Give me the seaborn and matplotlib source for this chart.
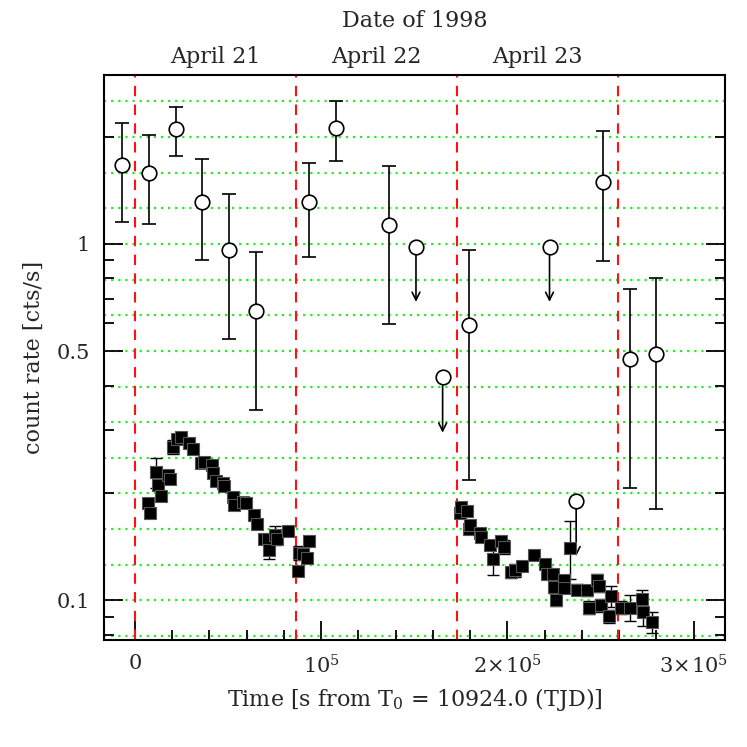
import numpy as np
import pandas as pd
import matplotlib
matplotlib.use('Agg')
import matplotlib.pyplot as plt
import matplotlib.ticker as mticker
import seaborn as sns

# --- data (time in s from T0, rate in cts/s) ---
# WFC-like detections (open circles)
det_t = [-7000, 7500, 21900, 36000, 50500, 64900, 93500, 107900, 136600,
         179600, 251300, 265600, 279900]
det_rate = [1.67, 1.58, 2.10, 1.31, 0.96, 0.648, 1.31, 2.11, 1.13,
            0.591, 1.49, 0.476, 0.491]
det_hi = [2.18, 2.02, 2.43, 1.73, 1.38, 0.95, 1.69, 2.52, 1.66,
          0.962, 2.08, 0.746, 0.80]
det_lo = [1.15, 1.14, 1.77, 0.90, 0.54, 0.343, 0.92, 1.71, 0.596,
          0.218, 0.896, 0.207, 0.18]

# upper limits (open circles with arrows)
ul_t = [150900, 165200, 222600, 236900]
ul_rate = [0.983, 0.422, 0.983, 0.190]

# narrow-field light curve (filled squares)
nfi_t = [7150, 8060, 11290, 12200, 13820, 17900, 18660, 20270, 22740, 24570,
         29190, 31020, 35320, 37100, 41240, 42100, 43550, 47150, 47850, 52530,
         53230, 57900, 59680, 63980, 65750, 69350, 71670, 72200, 75270, 76180,
         82420, 87800, 88330, 90480, 92630, 93710,
         174350, 175100, 178330, 179190, 180110, 185480, 185860, 190860, 192310,
         196610, 198010, 201990, 204300, 207900, 214140, 220430, 221340, 224570,
         224890, 226340, 230270, 230640, 233490, 237470, 242470, 243710, 248230,
         249090, 250380, 254460, 255750, 261130, 265750, 272040, 272960, 277420]
nfi_rate = [0.1877, 0.176, 0.2285, 0.2104, 0.196, 0.2244, 0.2197, 0.2697, 0.2827, 0.2876,
            0.2756, 0.265, 0.243, 0.2445, 0.2393, 0.228, 0.216, 0.2137, 0.209, 0.1944,
            0.185, 0.1888, 0.1877, 0.1733, 0.164, 0.149, 0.149, 0.1387, 0.1523, 0.149,
            0.1566, 0.1208, 0.1358, 0.1346, 0.1318, 0.1465,
            0.1753, 0.1828, 0.1778, 0.159, 0.163, 0.155, 0.1506, 0.1427, 0.131,
            0.1465, 0.1412, 0.1197, 0.1214, 0.1248, 0.1337, 0.1268, 0.1189, 0.1183,
            0.1089, 0.1004, 0.1138, 0.1086, 0.1406, 0.1072, 0.1067, 0.0953, 0.1143,
            0.1094, 0.0968, 0.0902, 0.1026, 0.0953, 0.0953, 0.1009, 0.0927, 0.0869]
nfi_err = [0.004, 0.004, 0.022, 0.006, 0.005, 0.005, 0.005, 0.012, 0.005, 0.005,
           0.005, 0.005, 0.005, 0.005, 0.005, 0.005, 0.005, 0.005, 0.005, 0.005,
           0.005, 0.004, 0.004, 0.004, 0.004, 0.005, 0.004, 0.008, 0.009, 0.004,
           0.004, 0.004, 0.006, 0.004, 0.004, 0.004,
           0.004, 0.004, 0.004, 0.004, 0.005, 0.004, 0.004, 0.004, 0.013,
           0.004, 0.006, 0.004, 0.005, 0.004, 0.004, 0.004, 0.004, 0.004,
           0.004, 0.004, 0.004, 0.004, 0.026, 0.004, 0.004, 0.004, 0.004,
           0.004, 0.004, 0.004, 0.007, 0.004, 0.008, 0.006, 0.008, 0.006]

day_bounds = [0, 86400, 172800, 259200]
day_labels = ['April 21', 'April 22', 'April 23']

df_det = pd.DataFrame({'t': det_t, 'rate': det_rate})
df_ul = pd.DataFrame({'t': ul_t, 'rate': ul_rate})
df_nfi = pd.DataFrame({'t': nfi_t, 'rate': nfi_rate})

# --- PLOT ---
sns.set_style('ticks')
plt.rcParams['font.family'] = ['DejaVu Serif']
plt.rcParams['mathtext.fontset'] = 'dejavuserif'

fig = plt.figure(figsize=(7.47, 7.47), dpi=100)
ax = fig.add_axes([0.139, 0.143, 0.832, 0.757])
ax.set_yscale('log')
ax.set_xlim(-16700, 317000)
ax.set_ylim(0.0773, 2.985)

# green dotted grid every 0.1 dex
for k in range(-11, 5):
    ax.axhline(10 ** (k / 10), color='#22ee22', ls=(0, (1, 2.2)), lw=1.6, zorder=0)
# red day boundaries
for b in day_bounds:
    ax.axvline(b, color='#ff1111', ls=(0, (5, 4)), lw=1.5, zorder=1)

# error bars
det_rate_a = np.array(det_rate)
yerr = [det_rate_a - np.array(det_lo), np.array(det_hi) - det_rate_a]
ax.errorbar(det_t, det_rate, yerr=yerr, fmt='none', ecolor='black',
            elinewidth=1.2, capsize=5, capthick=1.2, zorder=2)
ax.errorbar(nfi_t, nfi_rate, yerr=nfi_err, fmt='none', ecolor='black',
            elinewidth=1.0, capsize=4, capthick=1.0, zorder=2)

# upper limit arrows
for t, r in zip(ul_t, ul_rate):
    ax.annotate('', xy=(t, r * 10 ** -0.155), xytext=(t, r),
                arrowprops=dict(arrowstyle='->', color='black', lw=1.2,
                                shrinkA=6, shrinkB=0, mutation_scale=14),
                zorder=2)

sns.scatterplot(data=df_nfi, x='t', y='rate', marker='s', s=78,
                color='black', edgecolor='#555555', linewidth=0.8, ax=ax, zorder=3)
sns.scatterplot(data=df_det, x='t', y='rate', marker='o', s=110,
                facecolor='white', edgecolor='black', linewidth=1.2, ax=ax, zorder=4)
sns.scatterplot(data=df_ul, x='t', y='rate', marker='o', s=110,
                facecolor='white', edgecolor='black', linewidth=1.2, ax=ax, zorder=4)

# axis ticks
ax.xaxis.set_major_locator(mticker.FixedLocator([0, 1e5, 2e5, 3e5]))
ax.xaxis.set_major_formatter(mticker.FixedFormatter(
    ['0', r'$10^5$', r'$2\!\times\!10^5$', r'$3\!\times\!10^5$']))
ax.xaxis.set_minor_locator(mticker.MultipleLocator(2e4))
ax.yaxis.set_major_locator(mticker.FixedLocator([0.1, 0.5, 1]))
ax.yaxis.set_major_formatter(mticker.FixedFormatter(['0.1', '0.5', '1']))
ax.yaxis.set_minor_locator(mticker.FixedLocator(
    [0.08, 0.09, 0.2, 0.3, 0.4, 0.6, 0.7, 0.8, 0.9, 2, 3]))
ax.yaxis.set_minor_formatter(mticker.NullFormatter())
ax.tick_params(which='both', direction='in', top=False, right=True,
               labelsize=15, width=1.3, color='black')
ax.tick_params(which='major', length=14, pad=10)
ax.tick_params(which='minor', length=7)
for s in ax.spines.values():
    s.set_linewidth(1.5)
    s.set_color('black')

ax.set_xlabel(r'Time [s from T$_0$ = 10924.0 (TJD)]', fontsize=16, labelpad=6)
ax.set_ylabel('count rate [cts/s]', fontsize=16, labelpad=8)

# date labels on top
for i, lab in enumerate(day_labels):
    mid = (day_bounds[i] + day_bounds[i + 1]) / 2
    ax.text(mid, 1.012, lab, transform=ax.get_xaxis_transform(),
            ha='center', va='bottom', fontsize=16)
ax.text(0.5, 1.076, 'Date of 1998', transform=ax.transAxes,
        ha='center', va='bottom', fontsize=16)

fig.savefig('out.png', dpi=100)
